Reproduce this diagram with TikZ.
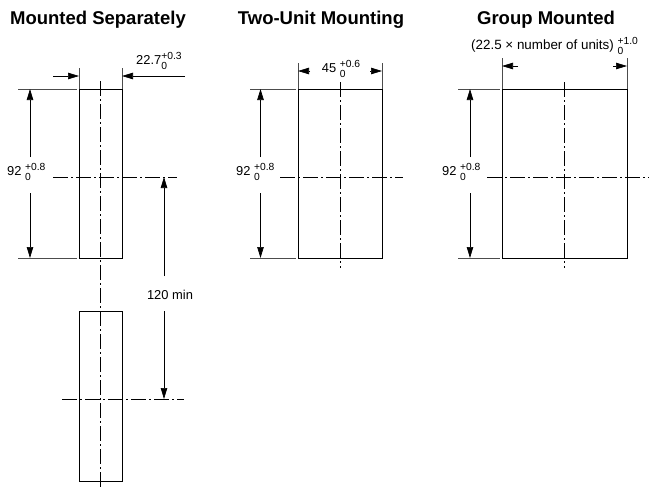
\documentclass[tikz,border=0pt]{standalone}
\usepackage{fontspec}
\setmainfont{Liberation Sans}
\usetikzlibrary{arrows.meta}
\newcommand{\tolst}[2]{{\fontsize{10.3}{9.5}\selectfont\begin{tabular}[c]{@{}l@{}}#1\\#2\end{tabular}}}
\begin{document}
\begin{tikzpicture}[x=1pt,y=-1pt,
  titlefont/.style={font=\fontsize{18.5}{21}\selectfont\bfseries, inner sep=0pt},
  lbl/.style={font=\fontsize{12.9}{14}\selectfont, inner sep=0pt},
  boxline/.style={line width=0.9pt},
  cl/.style={line width=0.6pt, dash pattern=on 15pt off 3pt on 2pt off 3pt},
  extl/.style={line width=0.7pt, black!70},
  dimarr/.style={line width=0.7pt, -{Triangle[length=11pt,width=6.5pt]}}]
\useasboundingbox (0,0) rectangle (649,491);

% ---------- Panel 1: Mounted Separately ----------
\node[titlefont] (t1) at (98,20) {Mounted Separately};
\draw[boxline] (79,89) rectangle (122,258);
\draw[boxline] (79,311) rectangle (122,481);
\draw[cl] (100.5,81) -- (100.5,488);
\draw[cl] (53,177) -- (177,177);
\draw[cl] (62,399) -- (184,399);
% 22.7
\draw[extl] (79,68) -- (79,89);
\draw[extl] (122,68) -- (122,89);
\coordinate (a1) at (53,76);
\coordinate (a2) at (79,76);
\coordinate (a3) at (185,76);
\coordinate (a4) at (122,76);
\draw[dimarr] (a1) -- (a2);
\draw[dimarr] (a3) -- (a4);
\node[lbl, anchor=west] (w1) at (136,62) {22.7\tolst{+0.3}{0}};
% 92
\draw[extl] (18,89) -- (77,89);
\draw[extl] (18,258) -- (77,258);
\node[lbl, anchor=west] (h1) at (7,173) {92 \tolst{+0.8}{0}};
\coordinate (b1) at (30,157);
\coordinate (b2) at (30,89);
\coordinate (b3) at (30,193);
\coordinate (b4) at (30,258);
\draw[dimarr] (b1) -- (b2);
\draw[dimarr] (b3) -- (b4);
% 120 min
\node[lbl] (m1) at (170,295) {120 min};
\coordinate (c1) at (164,276);
\coordinate (c2) at (164,177);
\coordinate (c3) at (164,311);
\coordinate (c4) at (164,399);
\draw[dimarr] (c1) -- (c2);
\draw[dimarr] (c3) -- (c4);

% ---------- Panel 2: Two-Unit Mounting ----------
\node[titlefont] (t2) at (321,20) {Two-Unit Mounting};
\draw[boxline] (298,89) rectangle (382,258);
\draw[cl] (340.5,82) -- (340.5,268);
\draw[cl] (280,177) -- (403,177);
\draw[extl] (298,63) -- (298,89);
\draw[extl] (382,63) -- (382,89);
\coordinate (d1) at (310,71);
\coordinate (d2) at (298,71);
\coordinate (d3) at (370,71);
\coordinate (d4) at (382,71);
\draw[dimarr] (d1) -- (d2);
\draw[dimarr] (d3) -- (d4);
\node[lbl] (w2) at (341,70) {45 \tolst{+0.6}{0}};
\draw[extl] (250,89) -- (296,89);
\draw[extl] (250,258) -- (296,258);
\node[lbl, anchor=west] (h2) at (236,173) {92 \tolst{+0.8}{0}};
\coordinate (e1) at (260.5,157);
\coordinate (e2) at (260.5,89);
\coordinate (e3) at (260.5,193);
\coordinate (e4) at (260.5,258);
\draw[dimarr] (e1) -- (e2);
\draw[dimarr] (e3) -- (e4);

% ---------- Panel 3: Group Mounted ----------
\node[titlefont] (t3) at (546,20) {Group Mounted};
\draw[boxline] (502,89) rectangle (627,258);
\draw[cl] (564,82) -- (564,268);
\draw[cl] (487,177) -- (649,177);
\draw[extl] (502,58) -- (502,89);
\draw[extl] (627,58) -- (627,89);
\coordinate (f1) at (518,66);
\coordinate (f2) at (502,66);
\coordinate (f3) at (613,66);
\coordinate (f4) at (627,66);
\draw[dimarr] (f1) -- (f2);
\draw[dimarr] (f3) -- (f4);
\node[lbl, font=\fontsize{13.4}{15}\selectfont, anchor=west] (w3) at (471,47) {(22.5 × number of units) \tolst{+1.0}{0}};
\draw[extl] (458,89) -- (500,89);
\draw[extl] (458,258) -- (500,258);
\node[lbl, anchor=west] (h3) at (442,173) {92 \tolst{+0.8}{0}};
\coordinate (g1) at (470,157);
\coordinate (g2) at (470,89);
\coordinate (g3) at (470,193);
\coordinate (g4) at (470,258);
\draw[dimarr] (g1) -- (g2);
\draw[dimarr] (g3) -- (g4);
\end{tikzpicture}
\end{document}
